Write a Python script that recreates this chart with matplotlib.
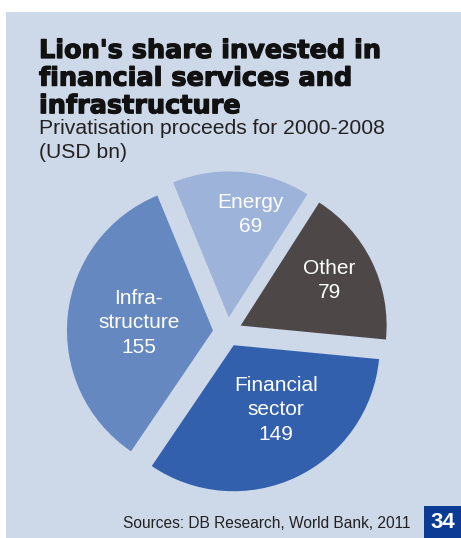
import matplotlib
matplotlib.use("Agg")
import matplotlib.pyplot as plt
import matplotlib.patheffects as pe
from matplotlib.patches import Rectangle
import numpy as np

# Privatisation proceeds 2000-2008, USD bn
sectors = ["Energy", "Other", "Financial\nsector", "Infra-\nstructure"]
proceeds = [69, 79, 149, 155]
colors = ["#9db3da", "#4d4847", "#3260ac", "#6588c1"]

title = "Lion's share invested in\nfinancial services and\ninfrastructure"
subtitle = "Privatisation proceeds for 2000-2008\n(USD bn)"
source = "Sources: DB Research, World Bank, 2011"
page_no = "34"

W, H = 461, 538
bg = "#cdd8e9"

plt.rcParams['font.family'] = ['Liberation Sans', 'DejaVu Sans']

fig = plt.figure(figsize=(W / 100, H / 100), dpi=100, facecolor="white")


def fx(px):
    return px / W


def fy(py):
    return 1 - py / H


# light blue panel (behind the axes)
fig.patches.append(Rectangle((fx(6), 0), 1 - fx(6), fy(12), transform=fig.transFigure,
                             facecolor=bg, edgecolor="none", zorder=-5))

fig.text(fx(39), fy(38), title, ha="left", va="top", fontsize=18.4, fontweight="bold",
         family="DejaVu Sans", color="#111111", linespacing=1.08,
         path_effects=[pe.withStroke(linewidth=0.9, foreground="#111111")])
fig.text(fx(39), fy(119), subtitle, ha="left", va="top", fontsize=15.2,
         color="#222222", linespacing=1.3)

# pie: center (227, 332) px, radius 146 px
r_px = 146
cx, cy = 227.5, 332
half = 1.2 * r_px
ax = fig.add_axes([fx(cx - half), fy(cy + half), 2 * half / W, 2 * half / H])

wedges, _ = ax.pie(proceeds, colors=colors, startangle=112.4, counterclock=False,
                   explode=[0.1] * 4, radius=1, wedgeprops=dict(linewidth=0))
ax.set_xlim(-1.2, 1.2)
ax.set_ylim(-1.2, 1.2)
ax.set_aspect("equal")
ax.axis("off")

label_r = [0.72, 0.68, 0.53, 0.51]
label_shift = [-7, 1, 8, 0]
for w, name, val, lr, sh in zip(wedges, sectors, proceeds, label_r, label_shift):
    mid = np.deg2rad((w.theta1 + w.theta2) / 2 + sh)
    x = w.center[0] + lr * np.cos(mid)
    y = w.center[1] + lr * np.sin(mid)
    ax.text(x, y, f"{name}\n{val}", ha="center", va="center", color="white",
            fontsize=15, linespacing=1.36)

fig.text(fx(410), fy(523), source, ha="right", va="center", fontsize=11.2, color="#222222")

# page number box
fig.patches.append(Rectangle((fx(424), 0), 1 - fx(424), fy(506), transform=fig.transFigure,
                             facecolor="#0b3b94", edgecolor="none", zorder=1))
fig.text(fx(442.5), fy(523), page_no, ha="center", va="center", fontsize=16,
         fontweight="bold", color="white", zorder=2)

fig.savefig("out.png", dpi=100, facecolor="white")
